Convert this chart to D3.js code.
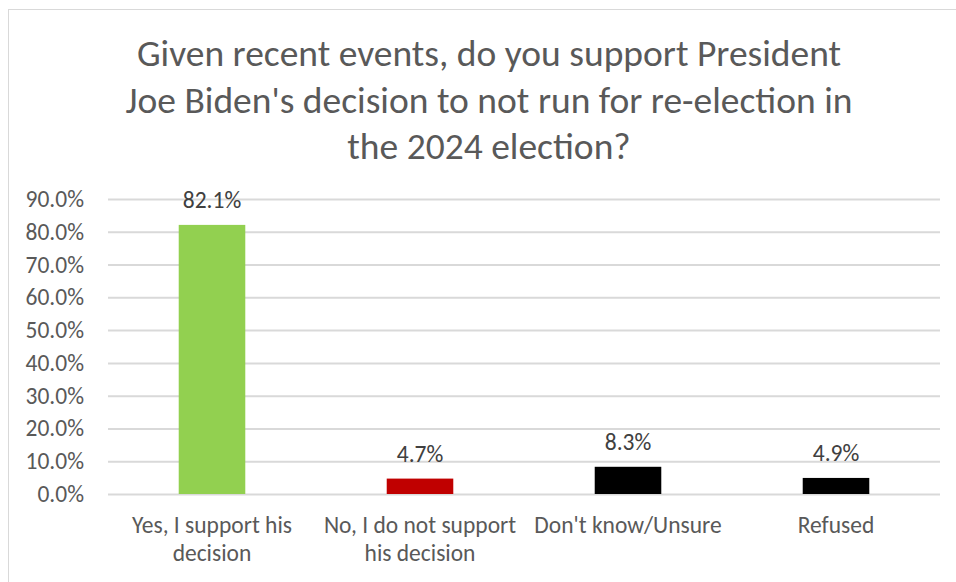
<!DOCTYPE html>
<html>
<head>
<meta charset="utf-8">
<script src="https://cdn.jsdelivr.net/npm/d3@7"></script>
<style>
  html, body { margin: 0; padding: 0; background: #fff; }
  svg { display: block; font-family: Carlito, Calibri, Lato, sans-serif; }
</style>
</head>
<body>
<svg id="chart" width="956" height="582"></svg>
<script>
// Survey responses (share of respondents, %)
const titleLines = [
  "Given recent events, do you support President",
  "Joe Biden's decision to not run for re-election in",
  "the 2024 election?"
];
const categories = [
  ["Yes, I support his", "decision"],
  ["No, I do not support", "his decision"],
  ["Don't know/Unsure"],
  ["Refused"]
];
const values = [82.1, 4.7, 8.3, 4.9];
const barColors = ["#92d050", "#c00000", "#000000", "#000000"];
const yTicks = [0, 10, 20, 30, 40, 50, 60, 70, 80, 90];

const svg = d3.select("#chart");
const margin = { left: 108, right: 16, top: 199, bottom: 88 };
const W = 956, H = 582;
const FONT = "Carlito, Calibri, Lato, sans-serif";

// Chart area frame
svg.append("rect")
  .attr("x", 8.5).attr("y", 9.5)
  .attr("width", 1000).attr("height", 1000)
  .attr("fill", "none").attr("stroke", "#d9d9d9").attr("stroke-width", 1);

// Title
svg.append("g").selectAll("text")
  .data(titleLines).join("text")
  .attr("x", 489)
  .attr("y", (d, i) => 66 + i * 46.5)
  .attr("text-anchor", "middle")
  .attr("font-size", 37.5)
  .attr("fill", "#595959")
  .text(d => d);

const x = d3.scaleBand()
  .domain(d3.range(categories.length))
  .range([margin.left, W - margin.right])
  .paddingInner(0.68).paddingOuter(0.34);

const y = d3.scaleLinear()
  .domain([0, 90])
  .range([H - margin.bottom, margin.top]);

// Gridlines
svg.append("g")
  .attr("transform", `translate(${margin.left},0)`)
  .call(d3.axisLeft(y).tickValues(yTicks)
    .tickSize(-(W - margin.right - margin.left)).tickFormat(""))
  .call(g => g.select(".domain").remove())
  .call(g => g.selectAll("line").attr("stroke", "#d9d9d9").attr("stroke-width", 2));

// Y axis labels
svg.append("g")
  .attr("transform", `translate(${margin.left},0)`)
  .call(d3.axisLeft(y).tickValues(yTicks).tickSize(0).tickPadding(24)
    .tickFormat(d => d.toFixed(1) + "%"))
  .call(g => g.select(".domain").remove())
  .call(g => g.selectAll("text")
    .attr("font-family", FONT)
    .attr("font-size", 23.5).attr("fill", "#595959"));

// Bars
svg.append("g").selectAll("rect")
  .data(values).join("rect")
  .attr("x", (d, i) => x(i))
  .attr("y", d => y(d))
  .attr("width", x.bandwidth())
  .attr("height", d => y(0) - y(d))
  .attr("fill", (d, i) => barColors[i]);

// Value labels
svg.append("g").selectAll("text")
  .data(values).join("text")
  .attr("x", (d, i) => x(i) + x.bandwidth() / 2)
  .attr("y", d => y(d) - 16.5)
  .attr("text-anchor", "middle")
  .attr("font-size", 23.5)
  .attr("fill", "#404040")
  .text(d => d.toFixed(1) + "%");

// Category labels
const cat = svg.append("g").selectAll("text")
  .data(categories).join("text")
  .attr("x", (d, i) => x(i) + x.bandwidth() / 2)
  .attr("y", 533)
  .attr("text-anchor", "middle")
  .attr("font-size", 23.5)
  .attr("fill", "#595959");
cat.selectAll("tspan")
  .data((d, i) => d.map(t => ({ t, cx: x(i) + x.bandwidth() / 2 })))
  .join("tspan")
  .attr("x", d => d.cx)
  .attr("dy", (d, j) => j === 0 ? 0 : 28)
  .text(d => d.t);
</script>
</body>
</html>
